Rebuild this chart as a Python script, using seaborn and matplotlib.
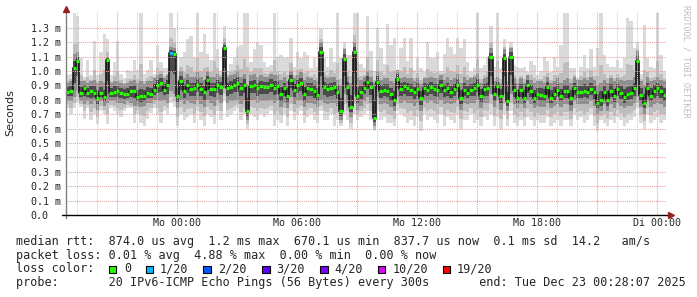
import numpy as np
import pandas as pd
import matplotlib
matplotlib.use("Agg")
import matplotlib.pyplot as plt
import seaborn as sns
from matplotlib.patches import Rectangle

# ---------------- data (milliseconds, one value per 10 minutes, 30 h ending Tue 00:28) ----------------
median_ms = [
    0.856, 0.86, 1.02, 1.07, 0.85, 0.88, 0.85, 0.86, 0.85, 0.81, 0.85, 0.82, 1.08, 0.85, 0.856,
    0.86, 0.85, 0.84, 0.84, 0.86, 0.86, 0.82, 0.825, 0.83, 0.85, 0.84, 0.87, 0.90, 0.92, 0.87,
    0.90, 1.127, 1.12, 0.83, 0.93, 0.86, 0.90, 0.876, 0.88, 0.906, 0.878, 0.853, 0.935, 0.878, 0.876,
    0.90, 0.886, 1.157, 0.88, 0.888, 0.906, 0.915, 0.88, 0.906, 0.72, 0.894, 0.90, 0.88, 0.894, 0.89,
    0.886, 0.906, 0.885, 0.894, 0.84, 0.88, 0.83, 0.94, 0.87, 0.90, 0.918, 0.84, 0.88, 0.878, 0.86,
    0.836, 1.13, 0.888, 0.873, 0.88, 0.886, 0.853, 0.72, 1.087, 0.886, 0.75, 1.13, 0.825, 0.855, 0.885,
    0.925, 0.888, 0.675, 0.925, 0.86, 0.87, 0.864, 0.84, 0.80, 0.948, 0.878, 0.894, 0.88, 0.87, 0.855,
    0.878, 0.81, 0.88, 0.87, 0.886, 0.875, 0.87, 0.90, 0.865, 0.88, 0.855, 0.875, 0.906, 0.815, 0.87,
    0.85, 0.87, 0.88, 0.906, 0.825, 0.876, 0.88, 1.096, 0.84, 0.894, 0.825, 1.09, 0.795, 1.10, 0.87,
    0.815, 0.87, 0.815, 0.906, 0.864, 0.815, 0.84, 0.836, 0.83, 0.886, 0.815, 0.843, 0.87, 0.828, 0.86,
    0.86, 0.81, 0.88, 0.855, 0.855, 0.864, 0.855, 0.878, 0.855, 0.78, 0.80, 0.855, 0.80, 0.864, 0.825,
    0.876, 0.85, 0.82, 0.84, 0.85, 0.88, 1.07, 0.836, 0.78, 0.88, 0.83, 0.86, 0.88, 0.86, 0.836,
]
ping_max_ms = [
    0.97, 0.98, 1.40, 1.38, 1.09, 0.96, 1.08, 0.97, 1.21, 0.97, 1.13, 1.26, 1.22, 0.97, 1.06,
    1.21, 0.98, 0.95, 1.01, 1.00, 1.08, 1.01, 1.40, 0.98, 1.01, 1.08, 0.98, 1.18, 1.06, 1.02,
    1.02, 1.40, 1.30, 1.00, 1.10, 1.13, 1.22, 1.24, 1.10, 1.40, 1.13, 1.26, 1.12, 1.08, 1.40,
    1.15, 1.00, 1.31, 1.00, 1.05, 1.10, 1.17, 1.18, 1.40, 1.40, 1.06, 1.15, 1.20, 1.18, 1.06,
    1.03, 1.04, 1.40, 1.10, 1.11, 1.09, 1.10, 1.23, 1.03, 1.13, 1.09, 1.13, 1.11, 1.02, 1.09,
    1.03, 1.29, 1.09, 1.03, 1.16, 1.06, 1.40, 1.09, 1.20, 1.11, 1.11, 1.40, 1.40, 1.05, 1.02,
    1.38, 1.14, 1.00, 1.30, 1.16, 1.05, 1.33, 1.18, 1.23, 0.99, 1.16, 1.23, 1.07, 1.23, 1.01,
    1.09, 1.02, 0.99, 1.20, 1.09, 1.09, 1.13, 1.00, 1.12, 1.23, 1.17, 1.12, 1.23, 1.16, 1.22,
    1.06, 0.99, 1.02, 1.40, 1.02, 1.04, 1.10, 1.31, 1.03, 1.40, 1.02, 1.22, 1.00, 1.20, 1.04,
    1.03, 1.02, 1.03, 0.99, 1.07, 1.04, 0.97, 1.00, 1.10, 1.07, 0.99, 1.10, 1.03, 1.18, 1.40,
    1.40, 1.02, 1.02, 0.95, 1.03, 1.11, 1.02, 1.15, 1.03, 1.16, 1.40, 1.11, 1.05, 1.03, 1.03,
    1.08, 1.02, 1.09, 1.37, 1.35, 1.16, 1.20, 0.98, 1.32, 1.09, 1.03, 1.02, 1.40, 1.11, 1.00,
]
ping_min_ms = [
    0.74, 0.70, 0.74, 0.78, 0.75, 0.67, 0.74, 0.66, 0.70, 0.63, 0.72, 0.70, 0.63, 0.74, 0.72,
    0.70, 0.68, 0.72, 0.74, 0.74, 0.64, 0.70, 0.64, 0.62, 0.67, 0.71, 0.74, 0.70, 0.64, 0.72,
    0.70, 0.78, 0.75, 0.62, 0.70, 0.66, 0.68, 0.70, 0.64, 0.72, 0.66, 0.62, 0.70, 0.68, 0.63,
    0.72, 0.66, 0.80, 0.68, 0.70, 0.72, 0.74, 0.66, 0.70, 0.60, 0.70, 0.68, 0.66, 0.70, 0.68,
    0.70, 0.72, 0.62, 0.66, 0.64, 0.70, 0.62, 0.72, 0.66, 0.70, 0.72, 0.64, 0.68, 0.70, 0.66,
    0.64, 0.72, 0.66, 0.66, 0.70, 0.62, 0.66, 0.62, 0.70, 0.66, 0.60, 0.70, 0.66, 0.68, 0.70,
    0.72, 0.66, 0.58, 0.72, 0.66, 0.68, 0.64, 0.64, 0.62, 0.72, 0.70, 0.68, 0.64, 0.66, 0.62,
    0.68, 0.58, 0.70, 0.66, 0.68, 0.66, 0.64, 0.70, 0.62, 0.68, 0.66, 0.64, 0.70, 0.60, 0.66,
    0.66, 0.70, 0.64, 0.66, 0.62, 0.68, 0.66, 0.70, 0.62, 0.68, 0.60, 0.70, 0.62, 0.72, 0.64,
    0.62, 0.66, 0.62, 0.68, 0.66, 0.62, 0.66, 0.64, 0.64, 0.68, 0.62, 0.64, 0.66, 0.62, 0.66,
    0.66, 0.62, 0.70, 0.66, 0.68, 0.64, 0.66, 0.70, 0.62, 0.58, 0.66, 0.64, 0.62, 0.66, 0.64,
    0.68, 0.66, 0.62, 0.64, 0.66, 0.68, 0.74, 0.64, 0.60, 0.70, 0.64, 0.66, 0.68, 0.64, 0.66,
]
ping_q1_ms = [
    0.80, 0.79, 0.82, 0.86, 0.79, 0.77, 0.79, 0.77, 0.79, 0.73, 0.79, 0.76, 0.78, 0.79, 0.79,
    0.78, 0.78, 0.77, 0.79, 0.78, 0.76, 0.76, 0.75, 0.76, 0.78, 0.78, 0.80, 0.79, 0.79, 0.80,
    0.78, 0.86, 0.84, 0.74, 0.80, 0.77, 0.79, 0.78, 0.77, 0.80, 0.77, 0.75, 0.80, 0.78, 0.76,
    0.80, 0.78, 0.88, 0.78, 0.79, 0.80, 0.80, 0.77, 0.79, 0.66, 0.80, 0.80, 0.78, 0.79, 0.79,
    0.79, 0.80, 0.78, 0.79, 0.75, 0.78, 0.74, 0.82, 0.77, 0.79, 0.80, 0.75, 0.78, 0.78, 0.77,
    0.75, 0.80, 0.78, 0.77, 0.78, 0.78, 0.76, 0.66, 0.84, 0.78, 0.68, 0.84, 0.73, 0.76, 0.79,
    0.82, 0.78, 0.62, 0.82, 0.77, 0.78, 0.77, 0.75, 0.72, 0.82, 0.78, 0.79, 0.78, 0.78, 0.76,
    0.78, 0.72, 0.79, 0.78, 0.79, 0.78, 0.77, 0.80, 0.77, 0.78, 0.77, 0.78, 0.80, 0.73, 0.78,
    0.77, 0.78, 0.78, 0.80, 0.74, 0.78, 0.78, 0.84, 0.75, 0.79, 0.73, 0.84, 0.72, 0.84, 0.77,
    0.74, 0.77, 0.74, 0.79, 0.77, 0.74, 0.76, 0.75, 0.75, 0.78, 0.74, 0.76, 0.77, 0.75, 0.77,
    0.77, 0.72, 0.79, 0.77, 0.77, 0.77, 0.77, 0.79, 0.76, 0.70, 0.72, 0.77, 0.72, 0.77, 0.74,
    0.78, 0.76, 0.74, 0.76, 0.76, 0.78, 0.82, 0.75, 0.70, 0.79, 0.75, 0.77, 0.78, 0.77, 0.75,
]
ping_q3_ms = [
    0.92, 0.93, 1.12, 1.13, 0.93, 0.93, 0.92, 0.93, 0.94, 0.92, 0.93, 0.92, 1.10, 0.92, 0.93,
    0.93, 0.92, 0.91, 0.92, 0.93, 0.94, 0.92, 0.93, 0.91, 0.93, 0.93, 0.95, 0.97, 0.98, 0.95,
    0.97, 1.17, 1.16, 0.93, 1.00, 0.95, 0.98, 0.96, 0.96, 0.99, 0.96, 0.94, 1.00, 0.96, 0.96,
    0.98, 0.96, 1.20, 0.96, 0.97, 0.98, 1.00, 0.96, 0.98, 0.90, 0.97, 0.98, 0.96, 0.97, 0.96,
    0.96, 0.98, 0.97, 0.97, 0.94, 0.96, 0.93, 1.00, 0.95, 0.97, 0.99, 0.94, 0.96, 0.95, 0.94,
    0.93, 1.20, 0.96, 0.95, 0.96, 0.96, 0.94, 0.90, 1.15, 0.96, 0.92, 1.20, 0.95, 0.94, 0.96,
    1.00, 0.96, 0.92, 1.00, 0.94, 0.95, 0.95, 0.93, 0.92, 1.01, 0.95, 0.96, 0.95, 0.95, 0.93,
    0.95, 0.91, 0.95, 0.95, 0.96, 0.95, 0.95, 0.97, 0.94, 0.96, 0.94, 0.95, 0.98, 0.92, 0.96,
    0.94, 0.95, 0.96, 0.98, 0.92, 0.95, 0.96, 1.16, 0.93, 0.96, 0.92, 1.15, 0.91, 1.16, 0.95,
    0.92, 0.95, 0.92, 0.97, 0.94, 0.92, 0.93, 0.93, 0.92, 0.96, 0.92, 0.93, 0.95, 0.92, 0.94,
    0.95, 0.92, 0.96, 0.94, 0.94, 0.95, 0.94, 0.96, 0.94, 0.90, 0.92, 0.94, 0.92, 0.95, 0.93,
    0.95, 0.94, 0.93, 0.94, 0.94, 0.96, 1.14, 0.93, 0.90, 0.96, 0.93, 0.94, 0.96, 0.94, 0.93,
]
# lost pings per step (index -> count); all other steps lost none
loss_events = {31: 1}

start_hours = -5.531          # Sun 18:28 relative to Mo 00:00
step_hours = 1 / 6            # 10 minute steps

time_label_hours = [0, 6, 12, 18, 24]
time_labels = ["Mo 00:00", "Mo 06:00", "Mo 12:00", "Mo 18:00", "Di 00:00"]
y_tick_values = [0.0, 0.1, 0.2, 0.3, 0.4, 0.5, 0.6, 0.7, 0.8, 0.9, 1.0, 1.1, 1.2, 1.3]
y_tick_labels = ["0.0", "0.1 m", "0.2 m", "0.3 m", "0.4 m", "0.5 m", "0.6 m", "0.7 m",
                 "0.8 m", "0.9 m", "1.0 m", "1.1 m", "1.2 m", "1.3 m"]

loss_levels = [0, 1, 2, 3, 4, 10, 19]
loss_labels = ["0", "1/20", "2/20", "3/20", "4/20", "10/20", "19/20"]
loss_colors = ["#26ff00", "#00b8ff", "#0059ff", "#5e00ff", "#7e00ff", "#dd00ff", "#ff0000"]

line_rtt = "median rtt:  874.0 us avg  1.2 ms max  670.1 us min  837.7 us now  0.1 ms sd  14.2   am/s"
line_loss = "packet loss: 0.01 % avg  4.88 % max  0.00 % min  0.00 % now"
line_color = "loss color:"
line_probe = "probe:       20 IPv6-ICMP Echo Pings (56 Bytes) every 300s       end: Tue Dec 23 00:28:07 2025"

# ---------------- drawing ----------------
sns.set_style("white")
plt.rcParams["font.family"] = ["DejaVu Sans Mono", "DejaVu Sans"]

W, H = 697, 297
fig = plt.figure(figsize=(W / 100, H / 100), dpi=100)
fig.patch.set_facecolor("white")
ax = fig.add_axes([66 / W, 82 / H, 600 / W, 203 / H])

med = np.array(median_ms)
lo = np.array(ping_min_ms)
hi = np.array(ping_max_ms)
q1 = np.array(ping_q1_ms)
q3 = np.array(ping_q3_ms)
n = len(med)
edges = start_hours + np.arange(n + 1) * step_hours


def ext(a):
    return np.append(a, a[-1])


# smoke: outer range light, inner ranges progressively darker
ax.fill_between(edges, ext(lo), ext(hi), step="post", color="#dadada", lw=0, zorder=1)
ax.fill_between(edges, ext((lo + q1) / 2), ext(q3 + (hi - q3) * 0.25), step="post",
                color="#bdbdbd", lw=0, zorder=1.5)
ax.fill_between(edges, ext(q1), ext(q3), step="post", color="#8e8e8e", lw=0, zorder=2)
ax.fill_between(edges, ext((q1 + med) / 2), ext((q3 + med) / 2), step="post",
                color="#4a4a4a", lw=0, zorder=3)

df = pd.DataFrame({"t": edges, "rtt": ext(med)})
sns.lineplot(data=df, x="t", y="rtt", drawstyle="steps-post", color="#151515",
             lw=1.2, ax=ax, zorder=4, legend=False)

# grid (drawn over the smoke, like rrdtool)
dot = (0, (1, 1))
for yv in y_tick_values[1:]:
    ax.axhline(yv, color="#e8a0a0", lw=0.75, ls=dot, zorder=4.5)
for h in range(-5, 25):
    col = "#e8a0a0" if h % 3 == 0 else "#cfcfcf"
    ax.axvline(h, color=col, lw=0.75, ls=dot, zorder=4.5)


# median markers coloured by loss
def loss_color(k):
    c = loss_colors[0]
    for lvl, cc in zip(loss_levels, loss_colors):
        if k >= lvl:
            c = cc
    return c


pt_colors = [loss_color(loss_events.get(i, 0)) for i in range(n)]
ax.hlines(med, edges[:-1], edges[1:], colors=pt_colors, lw=2.3, zorder=6)

ax.set_xlim(edges[0], edges[0] + 30)
ax.set_ylim(0, 1.41)
for s in ax.spines.values():
    s.set_visible(False)

# axes lines + arrows
ax.plot([0, 0], [-3 / 203, 1 + 2 / 203], transform=ax.transAxes, color="#808080",
        lw=1.0, clip_on=False, zorder=7)
ax.plot([0], [1 + 3 / 203], marker="^", ms=4.5, color="#962020", mec="#962020",
        transform=ax.transAxes, clip_on=False, zorder=8)
ax.plot([-4 / 600, 1 + 3 / 600], [0, 0], transform=ax.transAxes, color="black",
        lw=1.0, clip_on=False, zorder=7)
ax.plot([1 + 5 / 600], [0], marker=">", ms=4.5, color="#962020", mec="#962020",
        transform=ax.transAxes, clip_on=False, zorder=8)

ax.set_yticks(y_tick_values)
ax.set_yticklabels(y_tick_labels, fontsize=7.2)
ax.tick_params(axis="y", length=0, pad=25.4)
for lab in ax.get_yticklabels():
    lab.set_ha("left")
ax.set_xticks(time_label_hours)
ax.set_xticklabels(time_labels, fontsize=7.2)
ax.tick_params(axis="x", length=0, pad=2.5)
ax.set_xlabel("")
ax.set_ylabel("")

fig.text(10 / W, 1 - 113 / H, "Seconds", rotation=90, ha="center", va="center",
         fontsize=8, family="DejaVu Sans")
fig.text(686 / W, 1 - 5 / H, "RRDTOOL / TOBI OETIKER", rotation=270, ha="center",
         va="top", fontsize=6.1, color="#bdbdbd")

fs = 8.5
fig.text(16 / W, 1 - 241.5 / H, line_rtt, ha="left", va="center", fontsize=fs)
fig.text(16 / W, 1 - 255.3 / H, line_loss, ha="left", va="center", fontsize=fs)
fig.text(16 / W, 1 - 269 / H, line_color, ha="left", va="center", fontsize=fs)
fig.text(16 / W, 1 - 282.8 / H, line_probe, ha="left", va="center", fontsize=fs)

sq_x = [108.7, 145.7, 203, 262, 320, 377.7, 442.7]
lab_x = [124, 160, 218, 276, 334, 392.7, 457]
for sx, tx, lab, col in zip(sq_x, lab_x, loss_labels, loss_colors):
    fig.patches.append(Rectangle((sx / W, 1 - 273 / H), 7.5 / W, 7.5 / H,
                                 transform=fig.transFigure, facecolor=col,
                                 edgecolor="black", lw=0.8))
    fig.text(tx / W, 1 - 269 / H, lab, ha="left", va="center", fontsize=fs)

fig.savefig("out.png", dpi=100, facecolor="white")
